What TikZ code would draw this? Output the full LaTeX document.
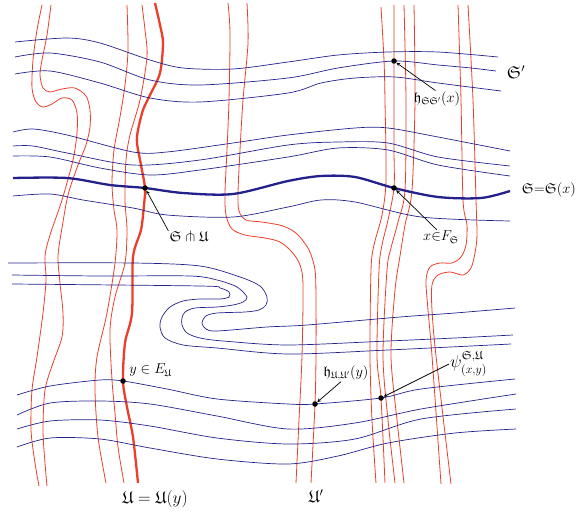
\documentclass[tikz,border=0pt]{standalone}
\usepackage{amssymb}
\usetikzlibrary{positioning}
\definecolor{leafred}{RGB}{236,62,42}
\definecolor{leafblue}{RGB}{36,34,138}

\begin{document}
\begin{tikzpicture}[x=1pt, y=-1pt,
  redthin/.style={draw=leafred, line width=0.8pt},
  redthick/.style={draw=leafred, line width=2.3pt},
  bluethin/.style={draw=leafblue, line width=0.7pt},
  bluethick/.style={draw=leafblue, line width=2.3pt},
  dot/.style={circle, fill=black, inner sep=0pt, minimum size=5.5pt},
  lab/.style={font=\Large, inner sep=1pt},
  pointer/.style={->, >=stealth, line width=0.7pt}]
  \useasboundingbox (0,0) rectangle (576,516);

  % Intersection points
  \coordinate (d1) at (145,188);
  \coordinate (d2) at (394,188);
  \coordinate (d3) at (394,61);
  \coordinate (d4) at (123,381);
  \coordinate (d5) at (315,404);
  \coordinate (d6) at (381,398);

  % Red leaves, left pair
  \draw[redthin] plot[smooth] coordinates {(42,5) (37,30) (33,60) (32,88) (36,102) (43,107) (52,104) (62,98) (72,100) (77,113) (77,133) (73,160) (62,200) (50,235) (45,256) (46,280) (43,313) (37,357) (32,390) (31,430) (35,463) (39,486)};
  \draw[redthin] plot[smooth] coordinates {(51,5) (47,35) (42,60) (40,75) (43,88) (50,92) (62,89) (75,88) (86,96) (90,110) (90,127) (86,145) (78,165) (68,195) (62,228) (58,256) (60,283) (63,313) (62,337) (53,363) (45,390) (43,430) (45,463) (47,486)};

  % Red leaves next to U
  \draw[redthin] plot[smooth] coordinates {(127,5) (128,50) (125,85) (120,117) (114,150) (112,183) (114,210) (117,230) (115,263) (107,313) (97,357) (95,390) (98,437) (106,483)};
  \draw[redthin] plot[smooth] coordinates {(142,5) (145,30) (147,57) (140,100) (130,135) (126,160) (125,200) (127,230) (125,263) (115,297) (110,330) (112,380) (115,413) (118,447) (124,483)};
  \draw[redthick] plot[smooth] coordinates {(155,3) (160,25) (163,43) (160,73) (150,95) (143,110) (138,130) (137,143) (141,165) (d1) (144,205) (141,230) (133,257) (132,313) (125,343) (d4) (127,407) (133,437) (138,483)};

  % Red leaves, middle pair
  \draw[redthin] plot[smooth] coordinates {(228,3) (230,33) (229,100) (227,150) (225,193) (226,215) (232,229) (245,235) (265,238) (280,242) (292,252) (300,265) (303,285) (302,356) (299,420) (296,483)};
  \draw[redthin] plot[smooth] coordinates {(247,3) (248,43) (243,100) (240,150) (238,193) (239,211) (246,220) (262,222) (283,226) (297,234) (309,250) (315,270) (316,300) (316,356) (d5) (311,483)};

  % Red leaves, right cluster
  \draw[redthin] plot[smooth] coordinates {(381,7) (384,60) (385,100) (386,180) (382,215) (374,245) (371,270) (370,356) (372,420) (376,483)};
  \draw[redthin] plot[smooth] coordinates {(394,5) (d3) (394,100) (394,150) (d2) (388,220) (382,245) (379,270) (377,356) (d6) (385,483)};
  \draw[redthin] plot[smooth] coordinates {(404,5) (406,100) (405,190) (398,222) (391,248) (387,270) (383,356) (388,420) (395,483)};
  \draw[redthin] plot[smooth] coordinates {(414,5) (415,100) (412,190) (405,225) (400,256) (395,290) (391,356) (397,420) (404,483)};

  % Red leaves, right pair
  \draw[redthin] plot[smooth] coordinates {(458,5) (461,100) (463,200) (467,225) (466,245) (461,257) (452,263) (440,263) (430,267) (426,280) (428,310) (432,356) (441,484)};
  \draw[redthin] plot[smooth] coordinates {(468,5) (473,100) (476,200) (477,235) (475,253) (471,268) (463,275) (450,272) (438,275) (432,285) (432,310) (436,356) (451,484)};

  % Blue leaves, top
  \draw[bluethin] plot[smooth] coordinates {(15,42) (67,38) (100,43) (150,60) (183,68) (233,69) (288,62) (338,55) (388,52) (438,52) (498,57)};
  \draw[bluethin] plot[smooth] coordinates {(15,57) (50,53) (100,62) (150,80) (200,85) (288,78) (338,68) (d3) (438,65) (471,68) (496,71)};
  \draw[bluethin] plot[smooth] coordinates {(15,74) (50,71) (100,83) (150,98) (200,102) (288,93) (321,83) (355,78) (395,77) (438,83) (501,91)};

  % Blue leaves, middle
  \draw[bluethin] plot[smooth] coordinates {(13,132) (33,129) (67,135) (133,152) (167,152) (233,143) (288,135) (355,128) (388,128) (438,137) (510,151)};
  \draw[bluethin] plot[smooth] coordinates {(13,146) (33,146) (67,153) (133,165) (200,160) (288,145) (338,142) (388,143) (438,157) (510,166)};
  \draw[bluethin] plot[smooth] coordinates {(13,156) (50,157) (100,168) (150,175) (200,170) (288,157) (338,148) (388,150) (438,165) (510,176)};
  \draw[bluethick] plot[smooth] coordinates {(13,178) (67,178) (110,185) (d1) (183,193) (233,194) (288,181) (321,176) (355,177) (d2) (438,197) (481,198) (510,191)};
  \draw[bluethin] plot[smooth] coordinates {(13,196) (50,194) (83,200) (133,208) (167,215) (233,217) (288,207) (321,200) (355,202) (421,217) (510,221)};

  % Blue leaves, fold
  \draw[bluethin] plot[smooth] coordinates {(8,263) (133,263) (200,266) (240,277) (260,286) (267,297) (266,305) (259,310) (245,312) (217,313) (206,316) (202,323) (206,329) (217,331) (267,327) (307,325) (400,317) (455,313) (515,308)};
  \draw[bluethin] plot[smooth] coordinates {(12,275) (100,276) (190,276) (217,280) (237,287) (247,297) (243,302) (233,305) (217,307) (195,308) (185,312) (182,318) (182,325) (187,333) (200,338) (223,341) (288,345) (388,341) (455,338) (513,335)};
  \draw[bluethin] plot[smooth] coordinates {(12,284) (200,286) (220,288) (229,292) (229,297) (220,299) (200,299) (183,301) (170,307) (162,317) (160,327) (165,338) (183,345) (217,348) (288,354) (388,350) (511,344)};

  % Blue leaves, bottom
  \draw[bluethin] plot[smooth] coordinates {(17,395) (50,386) (100,380) (d4) (167,389) (217,399) (288,404) (d5) (d6) (421,389) (515,379)};
  \draw[bluethin] plot[smooth] coordinates {(17,415) (50,403) (100,401) (150,404) (217,416) (288,429) (355,423) (421,409) (516,394)};
  \draw[bluethin] plot[smooth] coordinates {(17,429) (50,421) (100,420) (150,426) (217,438) (288,444) (355,439) (421,419) (516,409)};
  \draw[bluethin] plot[smooth] coordinates {(17,447) (50,438) (100,439) (150,448) (217,459) (288,464) (338,456) (388,443) (455,433) (516,429)};

  % Points
  \node[dot] (p1) at (d1) {};
  \node[dot] (p2) at (d2) {};
  \node[dot] (p3) at (d3) {};
  \node[dot] (p4) at (d4) {};
  \node[dot] (p5) at (d5) {};
  \node[dot] (p6) at (d6) {};

  % Labels
  \node[lab, font=\LARGE] (labSp) at (516,72) {$\mathfrak{S}'$};
  \node[lab] (labhS) at (437,99) {$\mathfrak{h}_{\mathfrak{S}\mathfrak{S}'}(x)$};
  \node[lab, anchor=east, inner sep=0pt] (labS) at (576,190) {$\mathfrak{S}{=}\mathfrak{S}(x)$};
  \node[lab] (labx) at (441,237) {$x{\in}F_{\mathfrak{S}}$};
  \node[lab] (labSU) at (189,237) {$\mathfrak{S}\pitchfork\mathfrak{U}$};
  \node[lab, above right=1pt and 3pt of p4] (laby) {$y\in E_{\mathfrak{U}}$};
  \node[lab, font=\LARGE] (labU) at (155,499) {$\mathfrak{U}=\mathfrak{U}(y)$};
  \node[lab] (labhU) at (346,373) {$\mathfrak{h}_{\mathfrak{U},\mathfrak{U}'}(y)$};
  \node[lab, font=\LARGE, anchor=west] (labpsi) at (449,364) {$\psi^{\mathfrak{S},\mathfrak{U}}_{(x,y)}$};
  \node[lab, font=\LARGE] (labUp) at (316,496) {$\mathfrak{U}'$};

  % Pointers
  \draw[pointer] (labhS.100) -- (p3);
  \draw[pointer] (labx.120) -- (p2);
  \draw[pointer] (labSU.north west) -- (p1);
  \draw[pointer] (labhU.-120) -- (p5);
  \draw[pointer] (labpsi.west) -- (p6);
\end{tikzpicture}
\end{document}
